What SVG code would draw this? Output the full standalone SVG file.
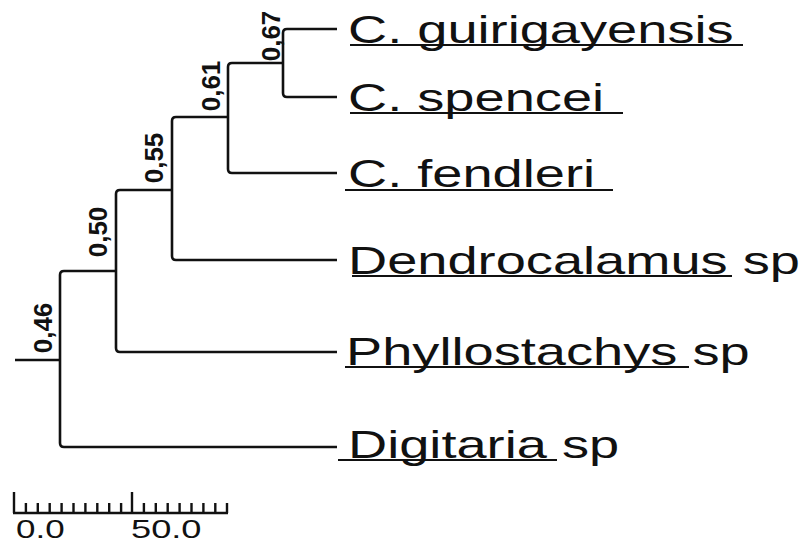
<svg xmlns="http://www.w3.org/2000/svg" width="810" height="542" viewBox="0 0 810 542">
<style>
.br{fill:none;stroke:#111;stroke-width:2.6;stroke-linecap:butt}
.ul{stroke:#111;stroke-width:2}
.tip{font-family:"Liberation Sans",Arial,sans-serif;font-size:39px;fill:#111}
.sup{font-family:"Liberation Sans",Arial,sans-serif;font-size:26px;font-weight:bold;fill:#111;text-anchor:middle}
.sc{font-family:"Liberation Sans",Arial,sans-serif;font-size:25px;fill:#111}
.tk{stroke:#111;stroke-width:2.4}
</style>
<rect width="810" height="542" fill="#fff"/>
<g id="connectors">
<path class="br" d="M15 360 H60"/>
<path class="br" d="M116 271 H64 Q60 271 60 275 V443 Q60 447 64 447 H337"/>
<path class="br" d="M172 190 H120 Q116 190 116 194 V348 Q116 352 120 352 H337"/>
<path class="br" d="M228 117 H176 Q172 117 172 121 V256 Q172 260 176 260 H337"/>
<path class="br" d="M283 63 H232 Q228 63 228 67 V169 Q228 173 232 173 H337"/>
<path class="br" d="M337 29 H287 Q283 29 283 33 V93 Q283 97 287 97 H337"/>
</g>
<g id="node-046"><text class="sup" transform="translate(52,328) rotate(-90)">0,46</text></g>
<g id="node-050"><text class="sup" transform="translate(107,232) rotate(-90)">0,50</text></g>
<g id="node-055"><text class="sup" transform="translate(163,158) rotate(-90)">0,55</text></g>
<g id="node-061"><text class="sup" transform="translate(220,86) rotate(-90)">0,61</text></g>
<g id="node-067"><text class="sup" transform="translate(280,36) rotate(-90)">0,67</text></g>
<g id="tip-guirigayensis">
<text class="tip" transform="translate(348,43) scale(1.39,1)">C. guirigayensis</text>
<line class="ul" x1="350" y1="45" x2="743" y2="45"/>
</g>
<g id="tip-spencei">
<text class="tip" transform="translate(348,111) scale(1.39,1)">C. spencei</text>
<line class="ul" x1="350" y1="113" x2="623" y2="113"/>
</g>
<g id="tip-fendleri">
<text class="tip" transform="translate(348,187) scale(1.39,1)">C. fendleri</text>
<line class="ul" x1="345" y1="190" x2="613" y2="190"/>
</g>
<g id="tip-dendrocalamus">
<text class="tip" transform="translate(348,274) scale(1.39,1)">Dendrocalamus sp</text>
<line class="ul" x1="352" y1="276" x2="732" y2="276"/>
</g>
<g id="tip-phyllostachys">
<text class="tip" transform="translate(346,365) scale(1.39,1)">Phyllostachys sp</text>
<line class="ul" x1="345" y1="367" x2="689" y2="367"/>
</g>
<g id="tip-digitaria">
<text class="tip" transform="translate(348,458) scale(1.39,1)">Digitaria sp</text>
<line class="ul" x1="338" y1="460" x2="557" y2="460"/>
</g>
<g id="scale-bar">
<line class="tk" x1="13" y1="513" x2="228" y2="513"/>
<path class="tk" fill="none" d="M14 492 V513 M132 492 V513 M25.9 503 V513 M37.8 503 V513 M49.7 503 V513 M61.6 503 V513 M73.5 503 V513 M85.4 503 V513 M97.3 503 V513 M109.2 503 V513 M121.1 503 V513 M143.9 503 V513 M155.8 503 V513 M167.7 503 V513 M179.6 503 V513 M191.5 503 V513 M203.4 503 V513 M215.3 503 V513 M227 503 V513"/>
<text class="sc" transform="translate(16,538) scale(1.4,1)">0.0</text>
<text class="sc" transform="translate(131,538) scale(1.45,1)">50.0</text>
</g>
</svg>
